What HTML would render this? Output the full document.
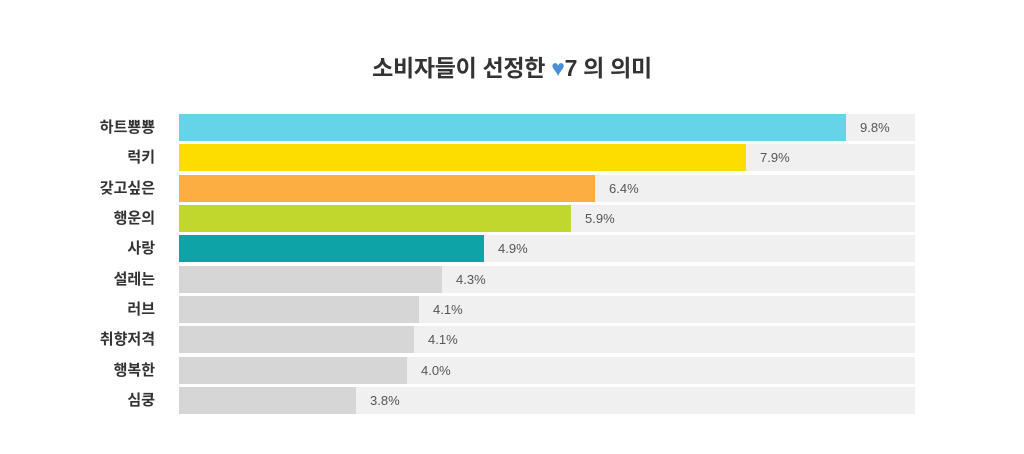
<!DOCTYPE html>
<html><head><meta charset="utf-8"><style>
body{margin:0;width:1024px;height:454px;background:#fff;position:relative;overflow:hidden;font-family:"Liberation Sans","Noto Sans CJK KR",sans-serif}
.t{position:absolute;left:0;width:1024px;top:49px;text-align:center;font-size:23px;font-weight:bold;color:#333;letter-spacing:-0.3px}
.t span{color:#4a8fd6}
.lab{position:absolute;width:120px;text-align:right;font-size:15px;font-weight:bold;color:#333;line-height:27px}
.bg{position:absolute;left:179px;width:736px;height:27px;background:#f0f0f0}
.b{position:absolute;left:179px;height:27px}
.v{position:absolute;font-size:13px;color:#555;line-height:27px}
</style></head><body>
<div class="t">소비자들이 선정한 <span>♥</span>7 의 의미</div>
<div id="c"></div>
<script>
var d=[["하트뿅뿅",846,"#66d4e8","9.8%"],["럭키",746,"#fddd00","7.9%"],["갖고싶은",595,"#fcaf40","6.4%"],["행운의",571,"#c1d72d","5.9%"],["사랑",484,"#0ea3a6","4.9%"],["설레는",442,"#d6d6d6","4.3%"],["러브",419,"#d6d6d6","4.1%"],["취향저격",414,"#d6d6d6","4.1%"],["행복한",407,"#d6d6d6","4.0%"],["심쿵",356,"#d6d6d6","3.8%"]];
var h="";
d.forEach(function(r,i){var y=Math.round(114+i*30.33);
h+='<div class="lab" style="top:'+y+'px;left:35px">'+r[0]+'</div><div class="bg" style="top:'+y+'px"></div><div class="b" style="top:'+y+'px;width:'+(r[1]-179)+'px;background:'+r[2]+'"></div><div class="v" style="top:'+y+'px;left:'+(r[1]+14)+'px">'+r[3]+'</div>';});
document.getElementById("c").innerHTML=h;
</script>
</body></html>
